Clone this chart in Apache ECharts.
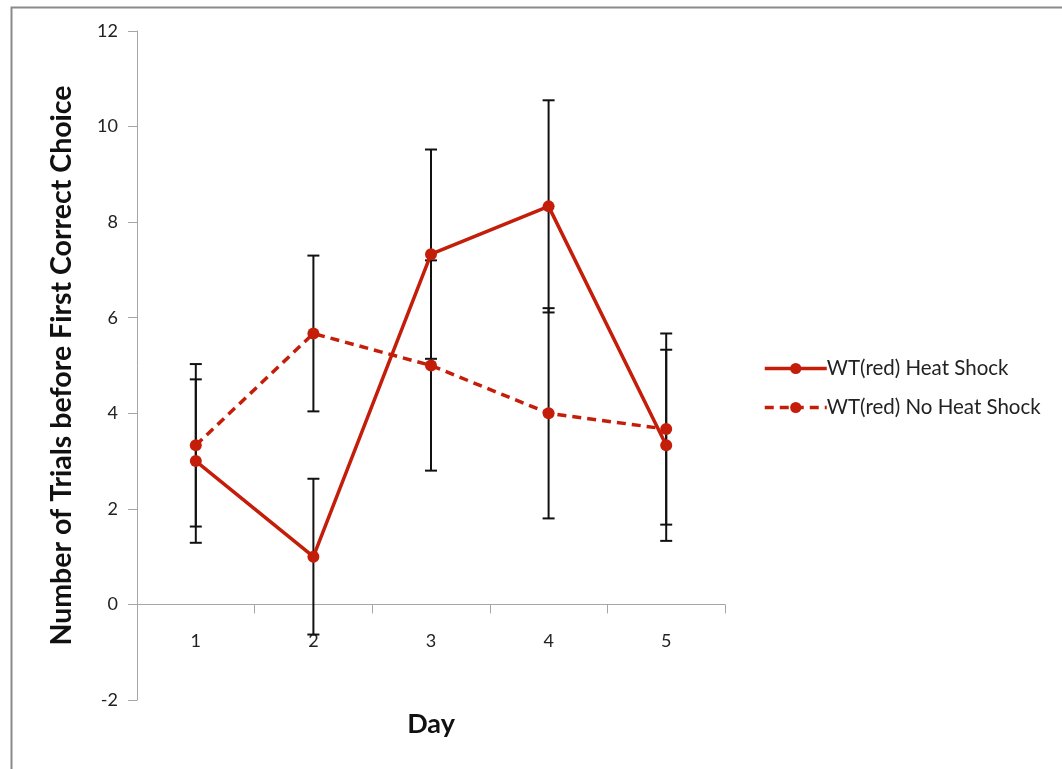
<!DOCTYPE html>
<html><head><meta charset="utf-8">
<script src="https://cdn.jsdelivr.net/npm/echarts@6/dist/echarts.min.js"></script>
<style>html,body{margin:0;padding:0;background:#fff}#c{width:1062px;height:769px}</style>
</head><body><div id="c"></div>
<script>
const days = ['1', '2', '3', '4', '5'];
const heatShock = [3, 1, 7.33, 8.33, 3.33];
const heatShockErr = [1.71, 1.63, 2.19, 2.22, 2.0];
const noHeatShock = [3.33, 5.67, 5, 4, 3.67];
const noHeatShockErr = [1.7, 1.63, 2.2, 2.2, 2.0];
const yMin = -2, yMax = 12, yStep = 2;
const seriesNames = ['WT(red) Heat Shock', 'WT(red) No Heat Shock'];

const RED = '#C41E0A';
const FONT = 'Lato';

function errData(vals, errs) {
  return vals.map((v, i) => [i, v - errs[i], v + errs[i]]);
}
function errSeries(name, vals, errs) {
  return {
    type: 'custom', name: name, z: 1, silent: true,
    data: errData(vals, errs),
    encode: { x: 0, y: [1, 2] },
    renderItem: function (params, api) {
      const lo = api.coord([api.value(0), api.value(1)]);
      const hi = api.coord([api.value(0), api.value(2)]);
      const w = 6;
      const st = { stroke: '#111', lineWidth: 2 };
      return {
        type: 'group',
        children: [
          { type: 'line', shape: { x1: lo[0], y1: lo[1], x2: hi[0], y2: hi[1] }, style: st },
          { type: 'line', shape: { x1: lo[0] - w, y1: lo[1], x2: lo[0] + w, y2: lo[1] }, style: st },
          { type: 'line', shape: { x1: hi[0] - w, y1: hi[1], x2: hi[0] + w, y2: hi[1] }, style: st }
        ]
      };
    }
  };
}

const chart = echarts.init(document.getElementById('c'), null, { renderer: 'canvas' });
chart.setOption({
  animation: false,
  backgroundColor: '#fff',
  textStyle: { fontFamily: FONT },
  graphic: [{
    type: 'rect', left: 9, top: 5, z: -10,
    shape: { width: 1100, height: 900 },
    style: { fill: 'none', stroke: '#8a8a8a', lineWidth: 2 }
  }],
  grid: { left: 137, right: 337, top: 31, bottom: 69, containLabel: false, outerBoundsMode: 'none' },
  legend: {
    data: seriesNames.map(n => ({ name: n })),
    orient: 'vertical', left: 758, top: 353, itemGap: 18,
    itemWidth: 62, itemHeight: 14,
    lineStyle: { width: 3.5 },
    textStyle: { fontFamily: FONT, fontSize: 20.5, color: '#222', padding: [0, 0, 0, -5] }
  },
  xAxis: {
    type: 'category', data: days, boundaryGap: true,
    name: 'Day', nameLocation: 'middle', nameGap: 11,
    nameTextStyle: { fontFamily: FONT, fontSize: 27, fontWeight: 'bold', color: '#111' },
    axisLine: { onZero: true, lineStyle: { color: '#a6a6a6', width: 1 } },
    axisTick: { show: true, alignWithLabel: false, inside: false, length: 9, lineStyle: { color: '#a6a6a6' } },
    axisLabel: { fontFamily: FONT, fontSize: 18, color: '#222', margin: -68 },
    splitLine: { show: false }
  },
  yAxis: {
    type: 'value', min: yMin, max: yMax, interval: yStep,
    name: 'Number of Trials before First Correct Choice', nameLocation: 'middle', nameGap: 61,
    nameTextStyle: { fontFamily: FONT, fontSize: 28.5, fontWeight: 'bold', color: '#111' },
    axisLine: { show: true, lineStyle: { color: '#a6a6a6', width: 1 } },
    axisTick: { show: true, length: 9, lineStyle: { color: '#a6a6a6' } },
    axisLabel: { fontFamily: FONT, fontSize: 18, color: '#222', margin: 19 },
    splitLine: { show: false }
  },
  series: [
    errSeries('errHS', heatShock, heatShockErr),
    errSeries('errNHS', noHeatShock, noHeatShockErr),
    {
      name: seriesNames[0], type: 'line', data: heatShock, z: 5,
      symbol: 'circle', symbolSize: 12,
      lineStyle: { color: RED, width: 3.5 },
      itemStyle: { color: RED }
    },
    {
      name: seriesNames[1], type: 'line', data: noHeatShock, z: 4,
      symbol: 'circle', symbolSize: 12,
      lineStyle: { color: RED, width: 3.5, type: [9, 6] },
      itemStyle: { color: RED }
    }
  ]
});
</script>
</body></html>
